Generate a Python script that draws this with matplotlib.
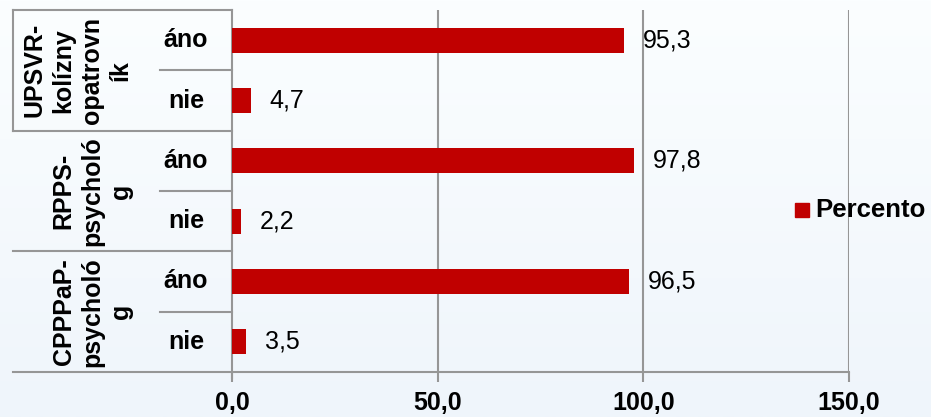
import numpy as np
import matplotlib.pyplot as plt
from matplotlib import transforms
from matplotlib.patches import Rectangle
from matplotlib.colors import LinearSegmentedColormap

# dados
grupos = ['UPSVR-\nkolízny\nopatrovn\ník', 'RPPS-\npsycholó\ng', 'CPPPaP-\npsycholó\ng']
respostas = ['áno', 'nie']
percento = [95.3, 4.7, 97.8, 2.2, 96.5, 3.5]
ticks_x = [0, 50, 100, 150]
ticks_txt = ['0,0', '50,0', '100,0', '150,0']

plt.rcParams['font.family'] = ['Liberation Sans', 'DejaVu Sans']
cinza = '#969696'
vermelho = '#C00000'

fig = plt.figure(figsize=(9.31, 4.17), dpi=100)
fig.patch.set_facecolor('#F6FAFD')

# fundo em degrade suave
bg = fig.add_axes([0, 0, 1, 1], zorder=-10)
grad = np.linspace(0, 1, 256).reshape(-1, 1)
bg.imshow(grad, aspect='auto', extent=[0, 1, 0, 1], origin='upper',
          cmap=LinearSegmentedColormap.from_list('g', ['#FBFEFF', '#EFF5FB']))
bg.axis('off')

ax = fig.add_axes([232/931, 1-372/417, 617/931, 362/417])
ax.set_facecolor('none')

y = np.arange(len(percento))
ax.barh(y, percento, height=0.41, color=vermelho, zorder=3)
for yi, v in zip(y, percento):
    ax.text(v + 4.5, yi, ('%.1f' % v).replace('.', ','), va='center', ha='left',
            fontsize=18, color='black', zorder=4)

ax.set_xlim(0, 150)
ax.set_ylim(len(percento) - 0.5, -0.5)
ax.set_xticks(ticks_x)
ax.set_xticklabels(ticks_txt, fontsize=18, fontweight='bold')
ax.tick_params(axis='x', length=7, width=1.5, color=cinza, pad=7)
ax.set_yticks([])
for gx in ticks_x[1:]:
    ax.axvline(gx, color=cinza, lw=1.5, zorder=1)
for s in ['top', 'right']:
    ax.spines[s].set_visible(False)
for s in ['left', 'bottom']:
    ax.spines[s].set_color(cinza)
    ax.spines[s].set_linewidth(1.5)
ax.spines['left'].set_bounds(-0.5, 5.6)

# tabela de categorias a esquerda
tr = transforms.blended_transform_factory(ax.transAxes, ax.transData)
x_esq = (13 - 232) / 617
x_int = (160 - 232) / 617
kw = dict(color=cinza, lw=1.5, transform=tr, clip_on=False)
ax.plot([x_esq, 0], [-0.5, -0.5], **kw)
for g in range(len(grupos)):
    ax.plot([x_esq, 0], [2*g + 1.5, 2*g + 1.5], **kw)
    ax.plot([x_int, 0], [2*g + 0.5, 2*g + 0.5], **kw)
    for k, r in enumerate(respostas):
        ax.text((186 - 232) / 617, 2*g + k, r, transform=tr, ha='center', va='center',
                fontsize=18, fontweight='bold')
    ax.text((133 - 232) / 617, 2*g + 0.5, grupos[g], transform=tr, ha='right', va='center',
            rotation=90, fontsize=18, fontweight='bold', linespacing=1.25,
            multialignment='center')
ax.plot([x_esq, x_esq], [-0.5, 1.5], **kw)

# legenda
fig.patches.append(Rectangle((795/931, 1-217/417), 14/931, 14/417, color=vermelho,
                             transform=fig.transFigure, figure=fig))
fig.text(815/931, 1-210/417, 'Percento', fontsize=18.5, fontweight='bold', ha='left', va='center')

plt.savefig('out.png', dpi=100)
plt.close()
